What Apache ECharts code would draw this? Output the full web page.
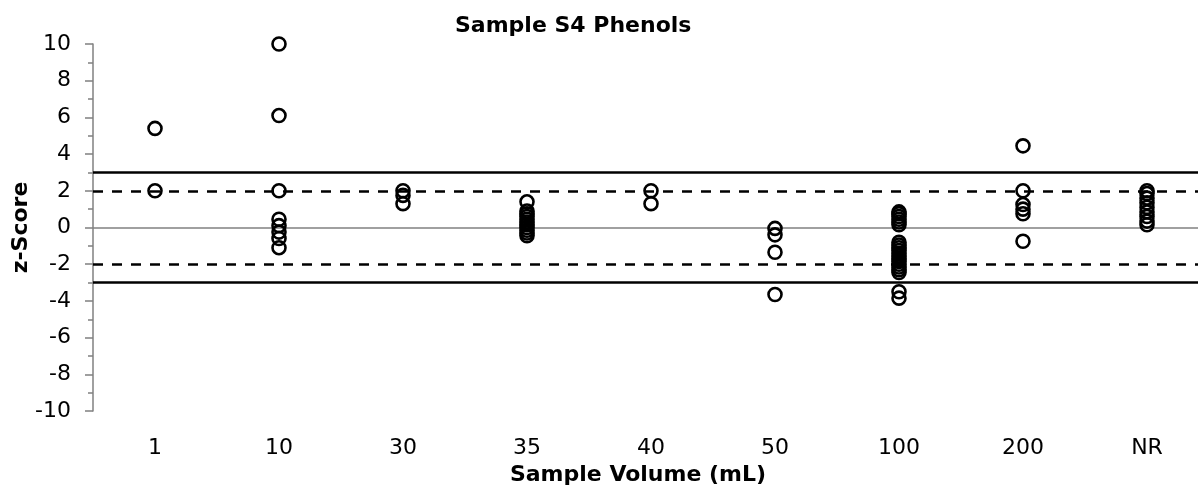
<!DOCTYPE html>
<html>
<head>
<meta charset="utf-8">
<script src="https://cdn.jsdelivr.net/npm/echarts@6/dist/echarts.min.js"></script>
<style>
  html, body { margin: 0; padding: 0; background: #fff; }
  #chart { width: 1198px; height: 489px; }
</style>
</head>
<body>
<div id="chart"></div>
<script>
// Sample volume categories (x axis)
const categories = ['1', '10', '30', '35', '40', '50', '100', '200', 'NR'];

// z-scores per sample volume
const vol1   = [5.4, 2.0];
const vol10  = [10.0, 6.1, 2.0, 0.45, 0.1, -0.25, -0.6, -1.1];
const vol30  = [2.0, 1.75, 1.3];
const vol35  = [1.4, 0.9, 0.75, 0.6, 0.45, 0.3, 0.15, 0.0, -0.15, -0.3, -0.45];
const vol40  = [2.0, 1.3];
const vol50  = [-0.05, -0.4, -1.35, -3.65];
const vol100 = [0.85, 0.75, 0.6, 0.45, 0.3, 0.15, -0.8, -0.95, -1.1, -1.25, -1.4,
                -1.55, -1.7, -1.85, -2.0, -2.15, -2.3, -2.45, -3.5, -3.85];
const vol200 = [4.45, 2.0, 1.25, 1.0, 0.75, -0.75];
const volNR  = [2.0, 1.85, 1.6, 1.35, 1.1, 0.85, 0.6, 0.35, 0.15];

// Limit lines
const actionLimits  = [3, -3];
const warningLimits = [2, -2];
const centreLine    = [0];

// Y axis tick values
const yTicks = [-10, -8, -6, -4, -2, 0, 2, 4, 6, 8, 10];

const groups = [vol1, vol10, vol30, vol35, vol40, vol50, vol100, vol200, volNR];
const points = [];
groups.forEach((vals, i) => vals.forEach(v => points.push([categories[i], v])));

const font = "'DejaVu Sans', 'Liberation Sans', Arial, sans-serif";

const chart = echarts.init(document.getElementById('chart'));
chart.setOption({
  animation: false,
  backgroundColor: '#fff',
  title: {
    text: 'Sample S4 Phenols',
    left: 450,
    top: 10,
    textStyle: { fontFamily: font, fontSize: 22, fontWeight: 'bold', color: '#000' }
  },
  // plot area runs slightly past the right edge, so keep it unclamped
  grid: { left: 93, top: 44, width: 1116, height: 367, outerBoundsMode: 'none', containLabel: false },
  xAxis: {
    type: 'category',
    data: categories,
    boundaryGap: true,
    name: 'Sample Volume (mL)',
    nameLocation: 'middle',
    nameGap: 53,
    nameMoveOverlap: false,
    nameTextStyle: { fontFamily: font, fontSize: 22, fontWeight: 'bold', color: '#000', padding: [0, 26, 0, 0] },
    axisLine: { show: false },
    axisTick: { show: false },
    axisLabel: { fontFamily: font, fontSize: 22, color: '#000', margin: 26 },
    splitLine: { show: false }
  },
  yAxis: {
    type: 'value',
    min: yTicks[0],
    max: yTicks[yTicks.length - 1],
    interval: 2,
    name: 'z-Score',
    nameLocation: 'middle',
    nameGap: 61,
    nameMoveOverlap: false,
    nameTextStyle: { fontFamily: font, fontSize: 22, fontWeight: 'bold', color: '#000' },
    axisLine: { show: true, lineStyle: { color: '#808080', width: 1.5 } },
    axisTick: { show: true, length: 8, lineStyle: { color: '#808080', width: 1.5 } },
    minorTick: { show: true, splitNumber: 2, length: 5, lineStyle: { color: '#808080', width: 1.5 } },
    axisLabel: { fontFamily: font, fontSize: 22, color: '#000', margin: 22 },
    splitLine: { show: false }
  },
  series: [{
    type: 'scatter',
    data: points,
    symbol: 'circle',
    symbolSize: 13,
    itemStyle: { color: 'rgba(0,0,0,0)', borderColor: '#000', borderWidth: 2.6, opacity: 1 },
    markLine: {
      silent: true,
      symbol: ['none', 'none'],
      label: { show: false },
      z: 1,
      data: [
        ...centreLine.map(v => ({ yAxis: v, lineStyle: { color: '#808080', width: 1.5, type: 'solid' } })),
        ...actionLimits.map(v => ({ yAxis: v, lineStyle: { color: '#000', width: 2.6, type: 'solid' } })),
        ...warningLimits.map(v => ({ yAxis: v, lineStyle: { color: '#000', width: 2.6, type: [10, 9] } }))
      ]
    }
  }]
});
</script>
</body>
</html>
